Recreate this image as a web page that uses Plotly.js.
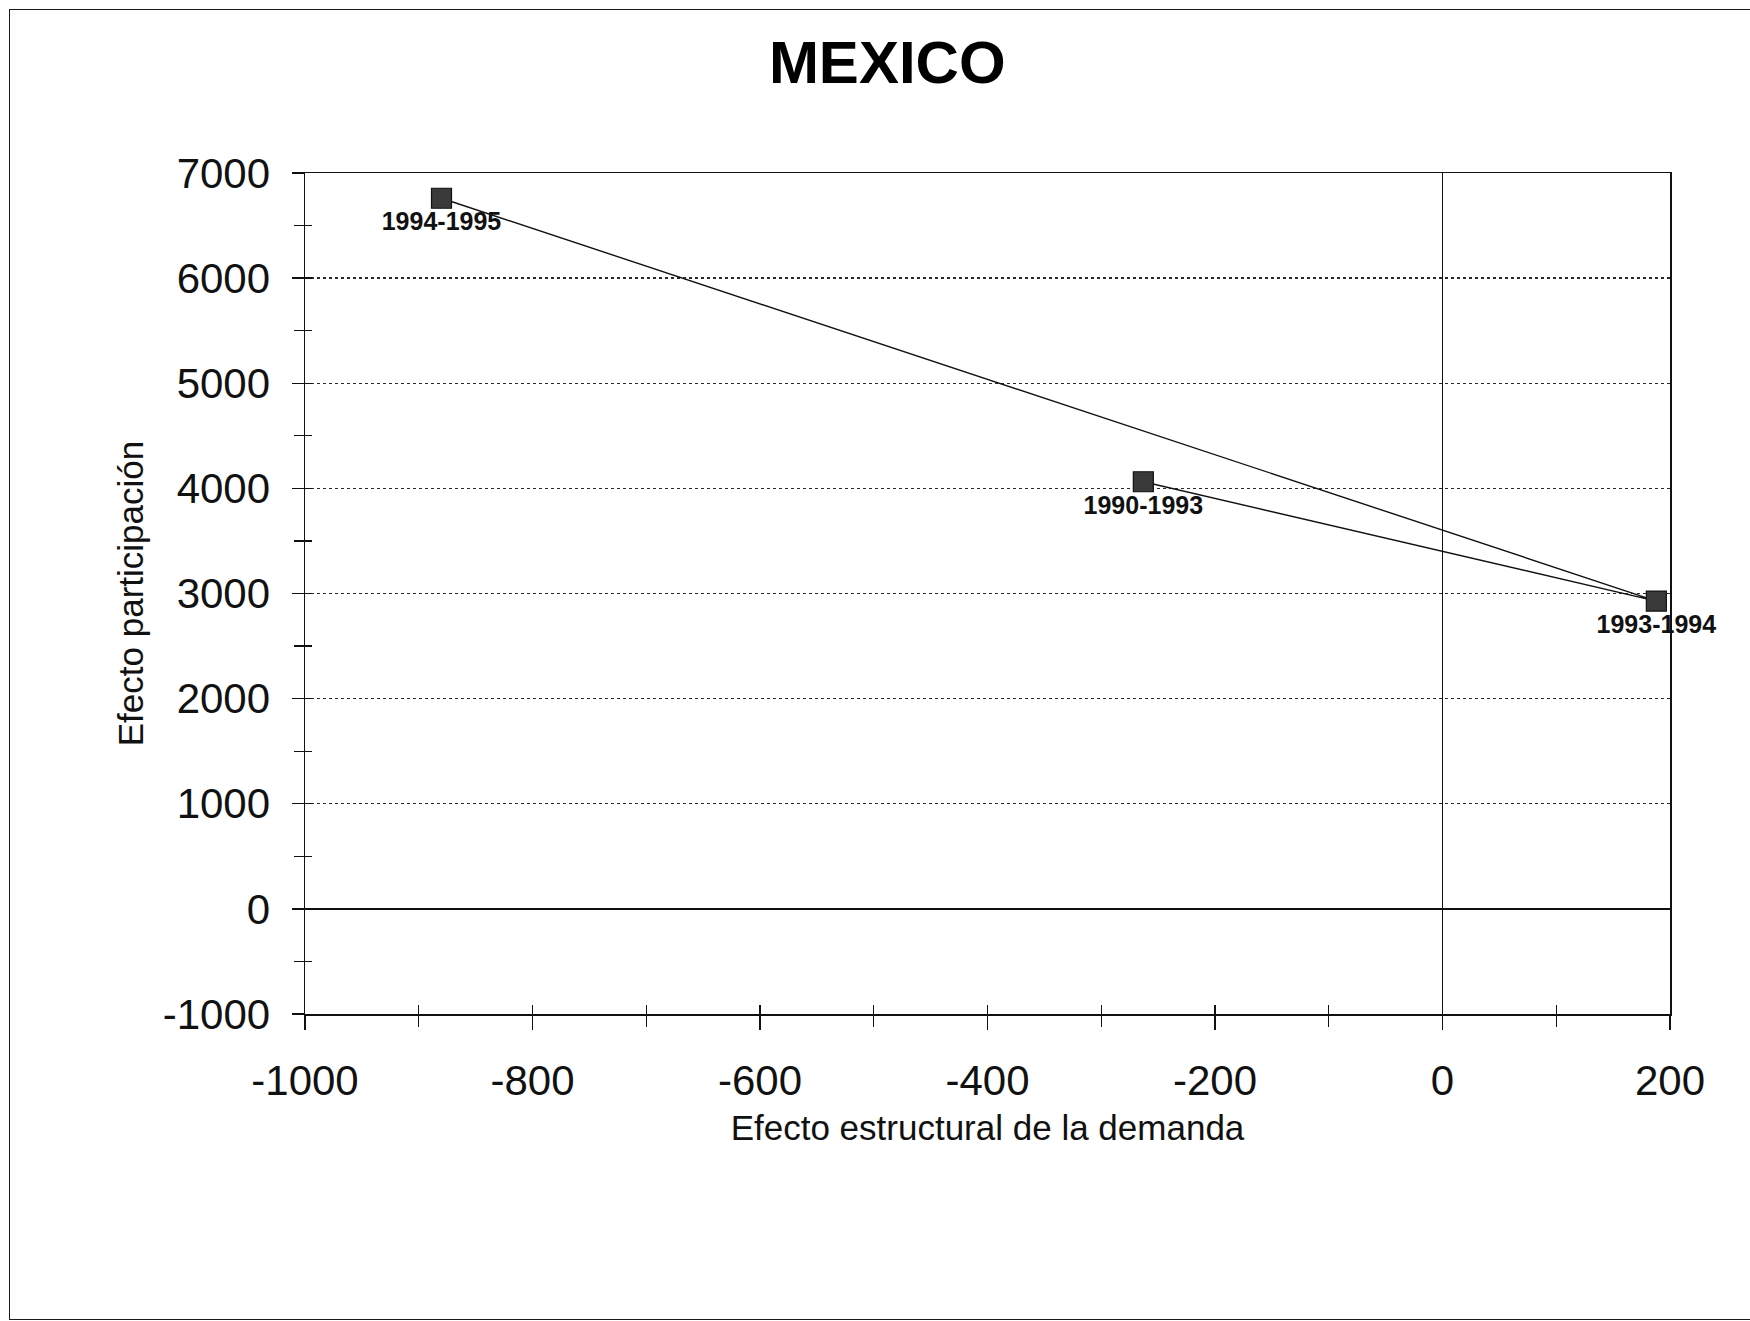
<!DOCTYPE html>
<html>
<head>
<meta charset="utf-8">
<script src="https://cdn.plot.ly/plotly-3.0.1.min.js"></script>
<style>
  html, body { margin: 0; padding: 0; background: #ffffff; }
  #wrap { position: relative; width: 1750px; height: 1321px; overflow: hidden; }
  #chart { position: absolute; left: 0; top: 0; width: 1750px; height: 1321px; }
  #frame {
    position: absolute; left: 9px; top: 9px; width: 1800px; height: 1311px;
    border: 1.5px solid #1a1a1a; box-sizing: border-box; pointer-events: none;
  }
</style>
</head>
<body>
<div id="wrap">
  <div id="chart"></div>
  <div id="frame"></div>
</div>
<script>
// Periods and their two effects (demand structure vs. participation)
const periods = ['1990-1993', '1993-1994', '1994-1995'];
const efectoEstructural = [-263, 188, -880];
const efectoParticipacion = [4063, 2928, 6760];

// Axis ticks
const xTickValues = [-1000, -800, -600, -400, -200, 0, 200];
const xMinorValues = [-900, -700, -500, -300, -100, 100];
const yTickValues = [-1000, 0, 1000, 2000, 3000, 4000, 5000, 6000, 7000];
const yMinorValues = [-500, 500, 1500, 2500, 3500, 4500, 5500, 6500];

const FONT = 'Liberation Sans, Arial, sans-serif';
const INK = '#111111';

const mainTrace = {
  type: 'scatter',
  mode: 'lines+markers+text',
  x: efectoEstructural,
  y: efectoParticipacion,
  text: periods,
  textposition: 'bottom center',
  textfont: { family: FONT, size: 25, color: INK, weight: 700 },
  cliponaxis: false,
  line: { color: INK, width: 1.4 },
  marker: { symbol: 'square', size: 20, color: '#3a3a3a', line: { color: INK, width: 1.2 } },
  hoverinfo: 'x+y+text',
  showlegend: false
};

// companion trace that carries the inner half of the crossing tick marks
const tickTrace = {
  type: 'scatter',
  mode: 'markers',
  x: efectoEstructural,
  y: efectoParticipacion,
  xaxis: 'x2',
  yaxis: 'y2',
  marker: { opacity: 0 },
  hoverinfo: 'skip',
  showlegend: false
};

const layout = {
  width: 1750,
  height: 1321,
  paper_bgcolor: '#ffffff',
  plot_bgcolor: '#ffffff',
  margin: { l: 305, r: 80, t: 173, b: 307 },
  font: { family: FONT, color: INK },
  title: {
    text: 'MEXICO',
    font: { family: FONT, size: 60, color: '#000000', weight: 700 },
    x: 0.507, xref: 'container', xanchor: 'center',
    y: 0.953, yref: 'container', yanchor: 'middle'
  },
  xaxis: {
    range: [-1000, 200],
    tickmode: 'array',
    tickvals: xTickValues,
    ticktext: xTickValues.map(String),
    ticks: 'outside', ticklen: 14, tickwidth: 1.3, tickcolor: INK,
    ticklabelstandoff: 15,
    minor: { tickmode: 'array', tickvals: xMinorValues, ticks: 'outside', ticklen: 11, tickwidth: 1.2, tickcolor: INK, showgrid: false },
    tickfont: { family: FONT, size: 42, color: INK },
    showline: true, linecolor: INK, linewidth: 1.5, mirror: true,
    showgrid: false,
    zeroline: true, zerolinecolor: INK, zerolinewidth: 1.2,
    title: { text: 'Efecto estructural de la demanda', font: { family: FONT, size: 35, color: INK }, standoff: 12 },
    automargin: false
  },
  yaxis: {
    range: [-1000, 7000],
    tickmode: 'array',
    tickvals: yTickValues,
    ticktext: yTickValues.map(String),
    ticks: 'outside', ticklen: 12, tickwidth: 1.3, tickcolor: INK,
    ticklabelstandoff: 13,
    minor: { tickmode: 'array', tickvals: yMinorValues, ticks: 'outside', ticklen: 10, tickwidth: 1.2, tickcolor: INK, showgrid: false },
    tickfont: { family: FONT, size: 42, color: INK },
    showline: true, linecolor: INK, linewidth: 1.5, mirror: true,
    showgrid: true, gridcolor: '#2a2a2a', gridwidth: 1.3, griddash: 'dot',
    zeroline: true, zerolinecolor: INK, zerolinewidth: 1.4,
    title: { text: 'Efecto participación', font: { family: FONT, size: 35, color: INK }, standoff: 8 },
    automargin: false
  },
  xaxis2: {
    overlaying: 'x', anchor: 'y2', side: 'bottom',
    range: [-1000, 200],
    tickmode: 'array', tickvals: xTickValues,
    ticks: 'inside', ticklen: 9, tickwidth: 1.3, tickcolor: INK,
    minor: { tickmode: 'array', tickvals: xMinorValues, ticks: 'inside', ticklen: 9, tickwidth: 1.2, tickcolor: INK, showgrid: false },
    showticklabels: false, showgrid: false, zeroline: false, showline: false
  },
  yaxis2: {
    overlaying: 'y', anchor: 'x2', side: 'left',
    range: [-1000, 7000],
    tickmode: 'array', tickvals: yTickValues,
    ticks: 'inside', ticklen: 7, tickwidth: 1.3, tickcolor: INK,
    minor: { tickmode: 'array', tickvals: yMinorValues, ticks: 'inside', ticklen: 7, tickwidth: 1.2, tickcolor: INK, showgrid: false },
    showticklabels: false, showgrid: false, zeroline: false, showline: false
  }
};

Plotly.newPlot('chart', [tickTrace, mainTrace], layout, { displayModeBar: false, staticPlot: true });
</script>
</body>
</html>
